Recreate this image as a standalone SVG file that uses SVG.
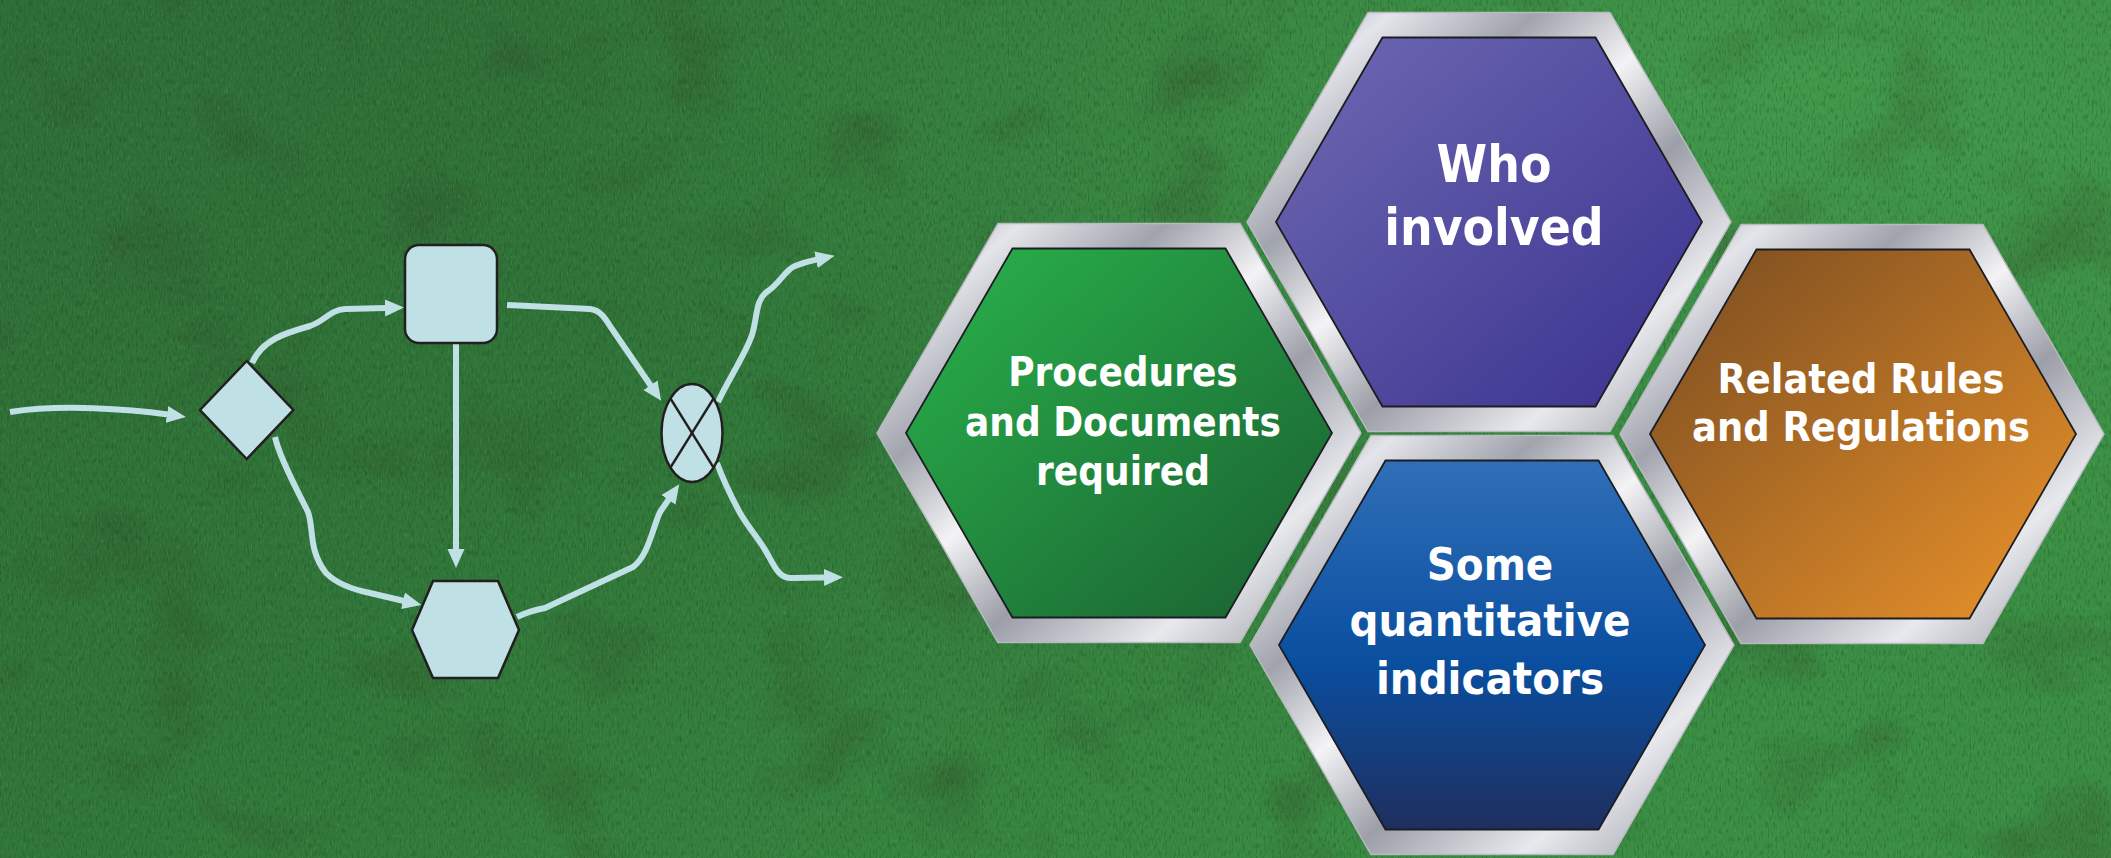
<svg xmlns="http://www.w3.org/2000/svg" width="2111" height="858" viewBox="0 0 2111 858">
<style>
.node{fill:#bfe0e4;stroke:#231f20;stroke-width:2.5;stroke-linejoin:miter}
.xline{stroke:#231f20;stroke-width:2.5;fill:none}
.conn{fill:none;stroke:#bfe0e4;stroke-width:6;stroke-linecap:butt;stroke-linejoin:round}
.frame{stroke:#b8bac0;stroke-width:1.5}
.inner{stroke:#1c1c22;stroke-width:1.8}
.lbl{fill:#ffffff;font-family:'DejaVu Sans Condensed','DejaVu Sans',sans-serif;font-stretch:condensed;font-weight:bold;text-anchor:middle}
</style>
<defs>
<linearGradient id="bg" x1="0" y1="0" x2="1" y2="0.6">
<stop offset="0" stop-color="#2e6c36"/>
<stop offset="0.45" stop-color="#307539"/>
<stop offset="1" stop-color="#3a8e44"/>
</linearGradient>
<radialGradient id="bgLight" cx="0.85" cy="0.1" r="0.6">
<stop offset="0" stop-color="#46a250" stop-opacity="0.7"/>
<stop offset="1" stop-color="#46a250" stop-opacity="0"/>
</radialGradient>
<filter id="grassLight" x="0" y="0" width="100%" height="100%" color-interpolation-filters="sRGB">
<feTurbulence type="fractalNoise" baseFrequency="0.7 0.18" numOctaves="2" seed="4"/>
<feColorMatrix type="matrix" values="0 0 0 0 0.5  0 0 0 0 0.75  0 0 0 0 0.48  2.2 0 0 0 -1.1"/>
</filter>
<filter id="grassDark" x="0" y="0" width="100%" height="100%" color-interpolation-filters="sRGB">
<feTurbulence type="fractalNoise" baseFrequency="0.5 0.14" numOctaves="2" seed="11"/>
<feColorMatrix type="matrix" values="0 0 0 0 0.08  0 0 0 0 0.25  0 0 0 0 0.1  -2.4 0 0 0 1.2"/>
</filter>
<filter id="blotch" x="0" y="0" width="100%" height="100%" color-interpolation-filters="sRGB">
<feTurbulence type="fractalNoise" baseFrequency="0.008 0.01" numOctaves="3" seed="7"/>
<feColorMatrix type="matrix" values="0 0 0 0 0.2  0 0 0 0 0.25  0 0 0 0 0.12  -2.5 0 0 0 1.15"/>
</filter>
<linearGradient id="silver" x1="0" y1="0" x2="1" y2="1">
<stop offset="0" stop-color="#8d8f99"/>
<stop offset="0.15" stop-color="#e4e5ea"/>
<stop offset="0.3" stop-color="#a1a3ad"/>
<stop offset="0.45" stop-color="#f4f4f6"/>
<stop offset="0.6" stop-color="#9c9ea8"/>
<stop offset="0.78" stop-color="#e8e9ed"/>
<stop offset="1" stop-color="#8a8c96"/>
</linearGradient>
<linearGradient id="gPurple" x1="0" y1="0" x2="1" y2="1">
<stop offset="0" stop-color="#6e69b3"/>
<stop offset="1" stop-color="#39318e"/>
</linearGradient>
<linearGradient id="gGreen" x1="0" y1="0" x2="1" y2="1">
<stop offset="0" stop-color="#29b44b"/>
<stop offset="1" stop-color="#1a5e31"/>
</linearGradient>
<linearGradient id="gOrange" x1="0" y1="0" x2="1" y2="1">
<stop offset="0" stop-color="#774a20"/>
<stop offset="1" stop-color="#ec942a"/>
</linearGradient>
<linearGradient id="gBlue" x1="0" y1="0" x2="0" y2="1">
<stop offset="0" stop-color="#306fb8"/>
<stop offset="0.55" stop-color="#0a4e9f"/>
<stop offset="1" stop-color="#1e2f5e"/>
</linearGradient>
<marker id="arr" markerUnits="userSpaceOnUse" viewBox="0 -9 20 18" markerWidth="20" markerHeight="18" refX="1" refY="0" orient="auto">
<path d="M0,-8.5 L19,0 L0,8.5 z" fill="#bfe0e4"/>
</marker>
</defs>

<g id="background">
<rect x="0" y="0" width="2111" height="858" fill="url(#bg)"/>
<rect x="0" y="0" width="2111" height="858" fill="url(#bgLight)"/>
<rect x="0" y="0" width="2111" height="858" filter="url(#blotch)" opacity="0.4"/>
<rect x="0" y="0" width="2111" height="858" filter="url(#grassDark)" opacity="0.4"/>
<rect x="0" y="0" width="2111" height="858" filter="url(#grassLight)" opacity="0.22"/>
</g>

<g id="connectors">
<path class="conn" marker-end="url(#arr)" d="M10,412 C60,404 130,409 168,414.5"/>
<path class="conn" marker-end="url(#arr)" d="M252,363 C262,340 285,333 310,326 C325,321 330,310 345,309 L386,308"/>
<path class="conn" marker-end="url(#arr)" d="M507,305 L590,309 C600,310 605,318 610,326 L651,386"/>
<path class="conn" marker-end="url(#arr)" d="M456,343 L456,550"/>
<path class="conn" marker-end="url(#arr)" d="M275,437 C280,460 300,495 308,512 C314,528 308,550 326,573 C338,585 355,590 370,593 L404,601"/>
<path class="conn" marker-end="url(#arr)" d="M517,617 C525,613 535,610 545,608 L633,567 C648,556 652,530 660,512 L669,499"/>
<path class="conn" marker-end="url(#arr)" d="M718,402 C728,380 745,355 752,335 C758,315 755,300 768,291 C780,283 785,270 795,266 C805,262 810,261 817,259.5"/>
<path class="conn" marker-end="url(#arr)" d="M717,463 C725,485 733,500 740,513 C750,530 760,540 768,555 C775,568 780,578 790,578 L825,577.5"/>
</g>

<g id="node-diamond">
<polygon class="node" points="246.7,361 293.3,410 246.7,459 200,410"/>
</g>
<g id="node-rect">
<rect class="node" x="405" y="245" width="92" height="98" rx="14" ry="14"/>
</g>
<g id="node-hexagon">
<polygon class="node" points="433,581 498,581 519,630 498,678 433,678 412,630"/>
</g>
<g id="node-xor">
<ellipse class="node" cx="692" cy="433" rx="30.5" ry="49"/>
<line class="xline" x1="670.4" y1="398.4" x2="713.6" y2="467.6"/>
<line class="xline" x1="713.6" y1="398.4" x2="670.4" y2="467.6"/>
</g>

<g id="hex-who">
<polygon class="frame" fill="url(#silver)" points="1247,222 1368,12.4 1610,12.4 1731,222 1610,431.6 1368,431.6"/>
<polygon class="inner" fill="url(#gPurple)" points="1276,222 1382.5,37.5 1595.5,37.5 1702,222 1595.5,406.5 1382.5,406.5"/>
<text class="lbl" font-size="51"><tspan x="1494" y="182">Who</tspan><tspan x="1494" y="245">involved</tspan></text>
</g>

<g id="hex-procedures">
<polygon class="frame" fill="url(#silver)" points="877,433 998,223.4 1240,223.4 1361,433 1240,642.6 998,642.6"/>
<polygon class="inner" fill="url(#gGreen)" points="906,433 1012.5,248.5 1225.5,248.5 1332,433 1225.5,617.5 1012.5,617.5"/>
<text class="lbl" font-size="40"><tspan x="1123" y="386">Procedures</tspan><tspan x="1123" y="436">and Documents</tspan><tspan x="1123" y="485">required</tspan></text>
</g>

<g id="hex-rules">
<polygon class="frame" fill="url(#silver)" points="1620,434 1741,224.4 1983,224.4 2104,434 1983,643.6 1741,643.6"/>
<polygon class="inner" fill="url(#gOrange)" points="1650,434 1756.5,249.5 1969.5,249.5 2076,434 1969.5,618.5 1756.5,618.5"/>
<text class="lbl" font-size="41"><tspan x="1861" y="393">Related Rules</tspan><tspan x="1861" y="441">and Regulations</tspan></text>
</g>

<g id="hex-indicators">
<polygon class="frame" fill="url(#silver)" points="1250,645 1371,435.4 1613,435.4 1734,645 1613,854.6 1371,854.6"/>
<polygon class="inner" fill="url(#gBlue)" points="1279,645 1385.5,460.5 1598.5,460.5 1705,645 1598.5,829.5 1385.5,829.5"/>
<text class="lbl" font-size="45"><tspan x="1490" y="580">Some</tspan><tspan x="1490" y="636">quantitative</tspan><tspan x="1490" y="694">indicators</tspan></text>
</g>
</svg>
